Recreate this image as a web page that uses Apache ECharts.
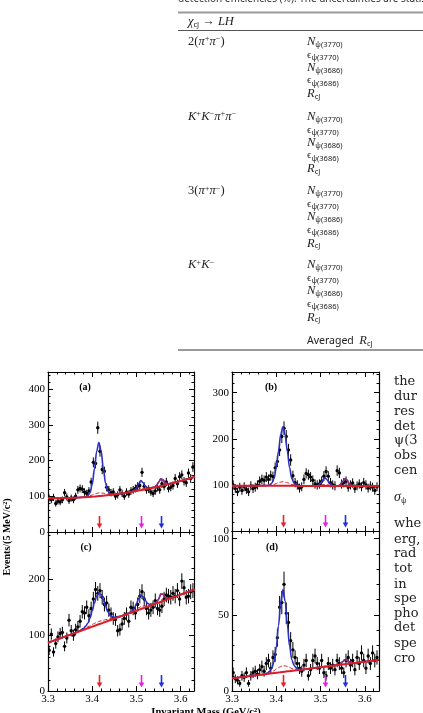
<!DOCTYPE html>
<html>
<head>
<meta charset="utf-8">
<script src="https://cdn.jsdelivr.net/npm/echarts@6/dist/echarts.min.js"></script>
<style>
html,body{margin:0;padding:0;background:#fff;}
#main{width:423px;height:713px;}
</style>
</head>
<body>
<div id="main"></div>
<script>
// bin centres of the 5 MeV histogram bins
var massBins=[3.3025,3.3075,3.3125,3.3175,3.3225,3.3275,3.3325,3.3375,3.3425,3.3475,
	3.3525,3.3575,3.3625,3.3675,3.3725,3.3775,3.3825,3.3875,3.3925,3.3975,
	3.4025,3.4075,3.4125,3.4175,3.4225,3.4275,3.4325,3.4375,3.4425,3.4475,
	3.4525,3.4575,3.4625,3.4675,3.4725,3.4775,3.4825,3.4875,3.4925,3.4975,
	3.5025,3.5075,3.5125,3.5175,3.5225,3.5275,3.5325,3.5375,3.5425,3.5475,
	3.5525,3.5575,3.5625,3.5675,3.5725,3.5775,3.5825,3.5875,3.5925,3.5975,
	3.6025,3.6075,3.6125,3.6175,3.6225,3.6275];

// events per bin, panels (a)..(d)
var countsA=[95,90,97,80,86,84,90,110,98,88,95,90,100,118,122,120,112,108,115,140,
	195,192,292,226,175,170,125,118,110,112,100,104,118,108,100,112,106,115,118,122,
	128,130,167,128,118,120,112,108,115,125,118,135,128,140,122,125,130,150,135,155,
	160,142,138,165,150,182];
var countsB=[100,92,85,95,88,96,90,85,98,92,95,100,108,112,110,117,112,120,118,137,
	151,176,205,223,205,176,154,120,105,100,93,96,112,125,122,117,110,102,100,102,
	108,119,129,119,105,100,98,131,126,102,105,108,95,100,104,92,98,102,96,105,
	100,93,98,95,88,96];
var countsC=[73,102,70,85,97,103,105,80,95,127,108,100,110,115,125,142,140,150,135,148,
	165,182,175,180,168,155,158,145,138,130,128,108,110,120,130,138,125,150,148,140,
	155,170,178,165,148,140,145,150,162,148,145,152,165,172,170,168,175,170,180,165,
	197,185,168,170,178,180];
var countsD=[12,8,7,5,10,9,12,5,10,12,13,11,14,16,13,18,20,15,22,24,
	35,55,58,70,51,45,33,27,22,18,15,13,17,20,10,14,20,23,18,15,
	20,12,10,18,15,17,14,20,18,15,12,20,22,17,20,14,22,18,25,20,
	15,23,18,25,20,22];

// mass points where the fit curves were read
var fitMass=[3.30,3.31,3.32,3.33,3.34,3.35,3.36,3.37,3.38,3.385,3.39,3.395,3.40,3.405,3.41,3.415,
	3.42,3.425,3.43,3.435,3.44,3.445,3.45,3.46,3.47,3.48,3.49,3.495,3.50,3.505,3.51,3.515,
	3.52,3.525,3.53,3.54,3.545,3.55,3.555,3.56,3.565,3.57,3.58,3.59,3.60,3.61,3.62,3.632];

var totalA=[95,94.8,94.8,94.9,95.1,95.4,95.8,96.7,97.8,98.8,101.7,110.2,133.4,176.8,226.3,250.5,
	227.5,179.2,137,114.9,107.6,106,105.8,107.3,108.8,110.7,113.7,116.7,123.4,135.4,144.1,137.7,
	128,123.7,123.1,125.3,129.8,139.4,148.7,146.3,138.3,134.7,136.4,139.7,143.1,146.6,150.2,154.7];
var bkgA=[95,94.8,94.8,94.9,95.1,95.4,95.8,96.4,97.1,97.5,97.9,98.3,98.8,99.3,99.9,100.5,
	101.1,101.7,102.4,103,103.8,104.5,105.3,107,108.8,110.7,112.7,113.8,114.9,116,117.1,118.3,
	119.5,120.8,122.1,124.7,126,127.4,128.9,130.3,131.8,133.4,136.4,139.7,143.1,146.6,150.2,154.7];
var dashA=[95,94.8,94.8,94.9,95.1,95.4,95.8,96.7,97.6,98.5,99.9,101.3,103.8,106.3,107.9,109.5,
	109.1,108.7,107.4,106,105.8,105.5,105.8,107.3,108.8,110.7,113.7,115.8,117.9,120,122.1,122.3,
	122.5,122.8,123.1,124.7,126,127.4,128.9,130.3,131.8,133.4,136.4,139.7,143.1,146.6,150.2,154.7];
var chi2A=[null,null,null,null,null,null,null,null,null,null,null,null,null,null,null,null,
	null,null,null,null,null,null,null,null,null,null,null,null,null,null,null,null,
	null,null,122.1,125.3,129.8,139.4,148.7,146.3,138.3,134.7,136.4,null,null,null,null,null];

var totalB=[98,98,98,98,98,98,98.2,98.5,98.8,100.2,104,114,137.5,173,209.5,226,
	209.5,173,137.5,114,104,100.2,98.8,98,97.8,97.8,98.2,99.4,103.5,110.8,115.5,110.8,
	103.5,99.4,97.9,98,100.5,107.1,113.3,110.3,102.6,98.6,97.5,97.5,97.5,97.5,97.5,97.5];
var bkgB=[98,98,98,98,98,98,98,98,98,98,98,98,98,98,98,98,
	98,98,98,98,98,98,98,97.8,97.8,97.8,97.8,97.8,97.8,97.8,97.8,97.8,
	97.8,97.8,97.8,97.5,97.5,97.5,97.5,97.5,97.5,97.5,97.5,97.5,97.5,97.5,97.5,97.5];
var dashB=[98,98,98,98,98,98,98,98,98.5,99,100,101,103,105,106,107,
	106,105,103,101,100,99,98.5,97.8,97.8,97.8,97.8,98.8,99.8,100.5,100.8,100.5,
	99.8,98.8,97.8,97.5,97.5,97.5,97.5,97.5,97.5,97.5,97.5,97.5,97.5,97.5,97.5,97.5];
var chi2B=[null,null,null,null,null,null,null,null,null,null,null,null,null,null,null,null,
	null,null,null,null,null,null,null,null,null,null,null,null,null,null,null,null,
	null,null,97.8,98,100.5,107.1,113.3,110.3,102.6,98.6,97.5,null,null,null,null,null];

var totalC=[86.5,89.4,92.3,95.1,98,100.9,104,107.6,112,116,121.5,130.6,143.8,158,170,175.6,
	173,163.7,152.4,142.2,136,133.2,132.2,133.6,135.5,138.3,143.5,148.4,156.6,165.8,172,168.7,
	162.3,157.1,155,156.5,159,164.5,174,173.4,167.8,165.7,167.1,170,172.9,175.8,178.6,182.1];
var bkgC=[86.5,89.4,92.3,95.1,98,100.9,103.8,106.6,109.5,111,112.4,113.8,115.3,116.7,118.2,119.6,
	121,122.5,123.9,125.4,126.8,128.2,129.7,132.6,135.4,138.3,141.2,142.6,144.1,145.5,147,148.4,
	149.8,151.3,152.7,155.6,157,158.5,159.9,161.4,162.8,164.2,167.1,170,172.9,175.8,178.6,182.1];
var dashC=[86.5,89.4,92.3,95.1,98,100.9,103.8,107.1,110.5,113,114.9,116.8,119.3,121.2,123.2,124.6,
	126,127,127.9,128.4,129.3,130.2,130.7,133.1,135.4,138.3,142.2,144.6,147.1,149,151,151.9,
	152.8,153.3,153.7,155.6,157,158.5,159.9,161.4,162.8,164.2,167.1,170,172.9,175.8,178.6,182.1];
var chi2C=[null,null,null,null,null,null,null,null,null,null,null,null,null,null,null,null,
	null,null,null,null,null,null,null,null,null,null,null,null,null,null,null,null,
	null,null,152.7,156.5,159,164.5,174,173.4,167.8,165.7,167.1,null,null,null,null,null];

var totalD=[8.3,8.7,9.0,9.4,9.8,10.1,10.5,10.9,11.7,13,15.1,19.3,28.5,42.8,58.6,66.5,
	59,43.6,29.5,20.7,16.9,15.2,14.3,14.1,14.5,14.9,15.2,15.4,15.6,15.8,16.0,16.1,
	16.3,16.5,16.7,17.0,17.8,19.2,20.6,20.2,19.0,18.3,18.5,18.9,19.2,19.6,20.0,20.4];
var bkgD=[8.3,8.7,9.0,9.4,9.8,10.1,10.5,10.9,11.2,11.4,11.6,11.8,12.0,12.1,12.3,12.5,
	12.7,12.9,13.0,13.2,13.4,13.6,13.8,14.1,14.5,14.9,15.2,15.4,15.6,15.8,16.0,16.1,
	16.3,16.5,16.7,17.0,17.2,17.4,17.6,17.8,18.0,18.1,18.5,18.9,19.2,19.6,20.0,20.4];
var dashD=[8.3,8.7,9.0,9.4,9.8,10.1,10.5,10.9,11.5,12,12.6,13.3,14.5,15.3,16.1,16.5,
	16.5,16.1,15.5,14.7,14.4,14.2,14.1,14.1,14.5,14.9,15.2,15.4,15.6,15.8,16.0,16.1,
	16.3,16.5,16.7,17.0,17.2,17.4,17.6,17.8,18.0,18.1,18.5,18.9,19.2,19.6,20.0,20.4];
var chi2D=[null,null,null,null,null,null,null,null,null,null,null,null,null,null,null,null,
	null,null,null,null,null,null,null,null,null,null,null,null,null,null,null,null,
	null,null,16.7,17.0,17.8,19.2,20.6,20.2,19.0,18.3,18.5,null,null,null,null,null];

// chi_c0, chi_c1, chi_c2 masses marked by arrows
var chiMass=[3.4147,3.5107,3.5562];
var panelLabels=['(a)','(b)','(c)','(d)'];
var yTickLabels=[[0,100,200,300,400],[0,100,200,300],[0,100,200],[0,50,100]];

var arrowColors=['#e8222a','#e61ee6','#1f2fe0'];
var serif='Liberation Serif';

var panels=[
	{grid:{left:48,top:372,width:146,height:160},xMax:3.63,yMax:448,yInt:100,counts:countsA,total:totalA,bkg:bkgA,dash:dashA,chi2:chi2A,xLab:false},
	{grid:{left:232,top:372,width:147,height:159},xMax:3.632,yMax:345,yInt:100,counts:countsB,total:totalB,bkg:bkgB,dash:dashB,chi2:chi2B,xLab:false},
	{grid:{left:48,top:532,width:146,height:159},xMax:3.63,yMax:285,yInt:100,counts:countsC,total:totalC,bkg:bkgC,dash:dashC,chi2:chi2C,xLab:true},
	{grid:{left:232,top:531,width:147,height:160},xMax:3.632,yMax:105,yInt:50,counts:countsD,total:totalD,bkg:bkgD,dash:dashD,chi2:chi2D,xLab:true}
];

function pairs(xs,ys){
	return xs.map(function(x,i){ return [x, ys[i]==null ? '-' : ys[i]]; });
}

function renderPoint(params,api){
	var m=api.value(0), n=api.value(1);
	var e=Math.sqrt(n); // poisson error
	var c=api.coord([m,n]);
	var hi=api.coord([m,n+e]);
	var lo=api.coord([m,Math.max(n-e,0)]);
	return {type:'group',children:[
		{type:'line',shape:{x1:c[0],y1:hi[1],x2:c[0],y2:lo[1]},style:{stroke:'#000',lineWidth:1}},
		{type:'circle',shape:{cx:c[0],cy:c[1],r:1.7},style:{fill:'#000'}}
	]};
}

function renderArrow(params,api){
	var m=api.value(0), k=api.value(1);
	var p=api.coord([m,0]);
	var x=Math.round(p[0])+0.5, yb=p[1];
	var col=arrowColors[k];
	return {type:'group',children:[
		{type:'line',shape:{x1:x,y1:yb-16,x2:x,y2:yb-7},style:{stroke:col,lineWidth:1.6}},
		{type:'polygon',shape:{points:[[x-2.8,yb-8.5],[x+2.8,yb-8.5],[x,yb-3.5]]},style:{fill:col}}
	]};
}

function tickAxis(g,pos,min,max,interval,showLabel,labelFmt){
	return {
		gridIndex:g, type:'value', position:pos, min:min, max:max, interval:interval,
		axisLine:{onZero:false,lineStyle:{color:'#000',width:1.2}},
		axisTick:{inside:true,length:5,lineStyle:{color:'#000',width:1}},
		minorTick:{show:true,splitNumber:5,length:2.5,lineStyle:{color:'#000',width:1}},
		splitLine:{show:false},
		axisLabel:{show:showLabel,showMaxLabel:false,color:'#000',fontFamily:serif,fontSize:11,margin:3,formatter:labelFmt}
	};
}

var grids=[],xAxes=[],yAxes=[],series=[];
panels.forEach(function(p,g){
	grids.push(p.grid);
	xAxes.push(tickAxis(g,'bottom',3.3,p.xMax,0.1,p.xLab,function(v){return v.toFixed(1);}));
	xAxes.push(tickAxis(g,'top',3.3,p.xMax,0.1,false));
	yAxes.push(tickAxis(g,'left',0,p.yMax,p.yInt,true,function(v){return yTickLabels[g].indexOf(v)>=0 ? String(v) : '';}));
	yAxes.push(tickAxis(g,'right',0,p.yMax,p.yInt,false));
	var ax={xAxisIndex:2*g,yAxisIndex:2*g};
	series.push(Object.assign({type:'custom',renderItem:renderPoint,data:pairs(massBins,p.counts),clip:true,z:2},ax));
	series.push(Object.assign({type:'line',data:pairs(fitMass,p.total),showSymbol:false,smooth:0.35,smoothMonotone:'x',
		lineStyle:{color:'#2b2fc4',width:1.6},z:3},ax));
	series.push(Object.assign({type:'line',data:pairs(fitMass,p.chi2),showSymbol:false,smooth:0.35,smoothMonotone:'x',
		lineStyle:{color:'#a8246e',width:1.4},z:4},ax));
	series.push(Object.assign({type:'line',data:pairs(fitMass,p.bkg),showSymbol:false,smooth:0.35,
		lineStyle:{color:'#d61f2b',width:2},z:5},ax));
	series.push(Object.assign({type:'line',data:pairs(fitMass,p.dash),showSymbol:false,smooth:0.35,smoothMonotone:'x',
		lineStyle:{color:'#d61f2b',width:1,type:[4,2]},z:6},ax));
	series.push(Object.assign({type:'custom',renderItem:renderArrow,data:chiMass.map(function(m,i){return [m,i];}),z:7},ax));
});

// table above the figure
var sans='Noto Sans';
var rich={
	n:{fontFamily:serif,fontStyle:'italic',fontSize:12.5,lineHeight:14,fill:'#222'},
	e:{fontFamily:serif,fontSize:11,lineHeight:14,fill:'#222'},
	s:{fontFamily:sans,fontSize:7.5,lineHeight:8,verticalAlign:'bottom',fill:'#222'},
	p:{fontFamily:serif,fontSize:8.5,lineHeight:9,verticalAlign:'top',fill:'#222'},
	t:{fontFamily:sans,fontSize:10.5,lineHeight:14,fill:'#222'},
	r:{fontFamily:serif,fontSize:12.5,lineHeight:14,fill:'#222'},
	m:{fontFamily:serif,fontStyle:'italic',fontSize:12.5,lineHeight:14,fill:'#222'},
	g:{fontFamily:serif,fontStyle:'italic',fontSize:14,lineHeight:16,fill:'#222'}
};
function txt(x,y,s,extra){
	var st={text:s,x:0,y:0,rich:rich,textVerticalAlign:'middle',fill:'#222'};
	for(var k in extra){ st[k]=extra[k]; }
	return {type:'text',x:x,y:y,style:st,silent:true};
}
var graphic=[];
graphic.push(txt(178,-1,'detection efficiencies (%). The uncertainties are statis',{fontFamily:sans,fontSize:10,fill:'#333'}));
graphic.push({type:'line',shape:{x1:178,y1:12.5,x2:423,y2:12.5},style:{stroke:'#9a9a9a',lineWidth:2}});
graphic.push({type:'line',shape:{x1:178,y1:30.5,x2:423,y2:30.5},style:{stroke:'#555',lineWidth:1}});
graphic.push({type:'line',shape:{x1:178,y1:350,x2:423,y2:350},style:{stroke:'#9a9a9a',lineWidth:2}});
graphic.push(txt(188,22,'{m|χ}{s|cJ}{r| → }{m|LH}'));

var channels=['{r|2(}{m|π}{p|+}{m|π}{p|−}{r|)}','{m|K}{p|+}{m|K}{p|−}{m|π}{p|+}{m|π}{p|−}',
	'{r|3(}{m|π}{p|+}{m|π}{p|−}{r|)}','{m|K}{p|+}{m|K}{p|−}'];
var channelY=[41.7,116.7,191,265];
var rowNames=['{n|N}{s|ψ(3770)}','{e|ϵ}{s|ψ(3770)}','{n|N}{s|ψ(3686)}','{e|ϵ}{s|ψ(3686)}','{n|R}{s|cJ}'];
var rowDy=[0,13,26,38.7,52.3];
channels.forEach(function(c,i){
	graphic.push(txt(188,channelY[i],c));
	rowNames.forEach(function(r,j){ graphic.push(txt(307,channelY[i]+rowDy[j],r)); });
});
graphic.push(txt(307,340.7,'{t|Averaged  }{n|R}{s|cJ}'));

// body text cut by the right edge of the page
var bodyWords=['the','dur','res','det','ψ(3','obs','cen','','{g|σ}{s|ψ}','','whe','erg,','rad','tot','in','spe','pho','det','spe','cro'];
var bodyY=[381.7,396.7,411.7,426.7,441,456,470.7,0,497,0,524,540,554,569,585,599,613.7,628,644,659];
bodyWords.forEach(function(w,i){
	if(!w) return;
	graphic.push(txt(394,bodyY[i],w,{fontFamily:'DejaVu Serif',fontSize:13,fill:'#222'}));
});

// panel labels and axis titles
var labelPos=[[85,387],[271,387],[86,547],[272,547]];
panelLabels.forEach(function(l,i){
	graphic.push(txt(labelPos[i][0],labelPos[i][1],l,{fontFamily:serif,fontWeight:'bold',fontSize:10,fill:'#000',textAlign:'center'}));
});
graphic.push({type:'text',x:7.5,y:537,rotation:Math.PI/2,silent:true,
	style:{text:'Events/(5 MeV/c²)',fontFamily:serif,fontWeight:'bold',fontSize:10,fill:'#000',textAlign:'center',textVerticalAlign:'middle'}});
graphic.push(txt(206,712,'Invariant Mass (GeV/c²)',{fontFamily:serif,fontWeight:'bold',fontSize:10.5,fill:'#000',textAlign:'center'}));

var chart=echarts.init(document.getElementById('main'),null,{renderer:'canvas'});
option={
	animation:false,
	backgroundColor:'#fff',
	grid:grids,
	xAxis:xAxes,
	yAxis:yAxes,
	series:series,
	graphic:graphic
};
chart.setOption(option);
</script>
</body>
</html>
